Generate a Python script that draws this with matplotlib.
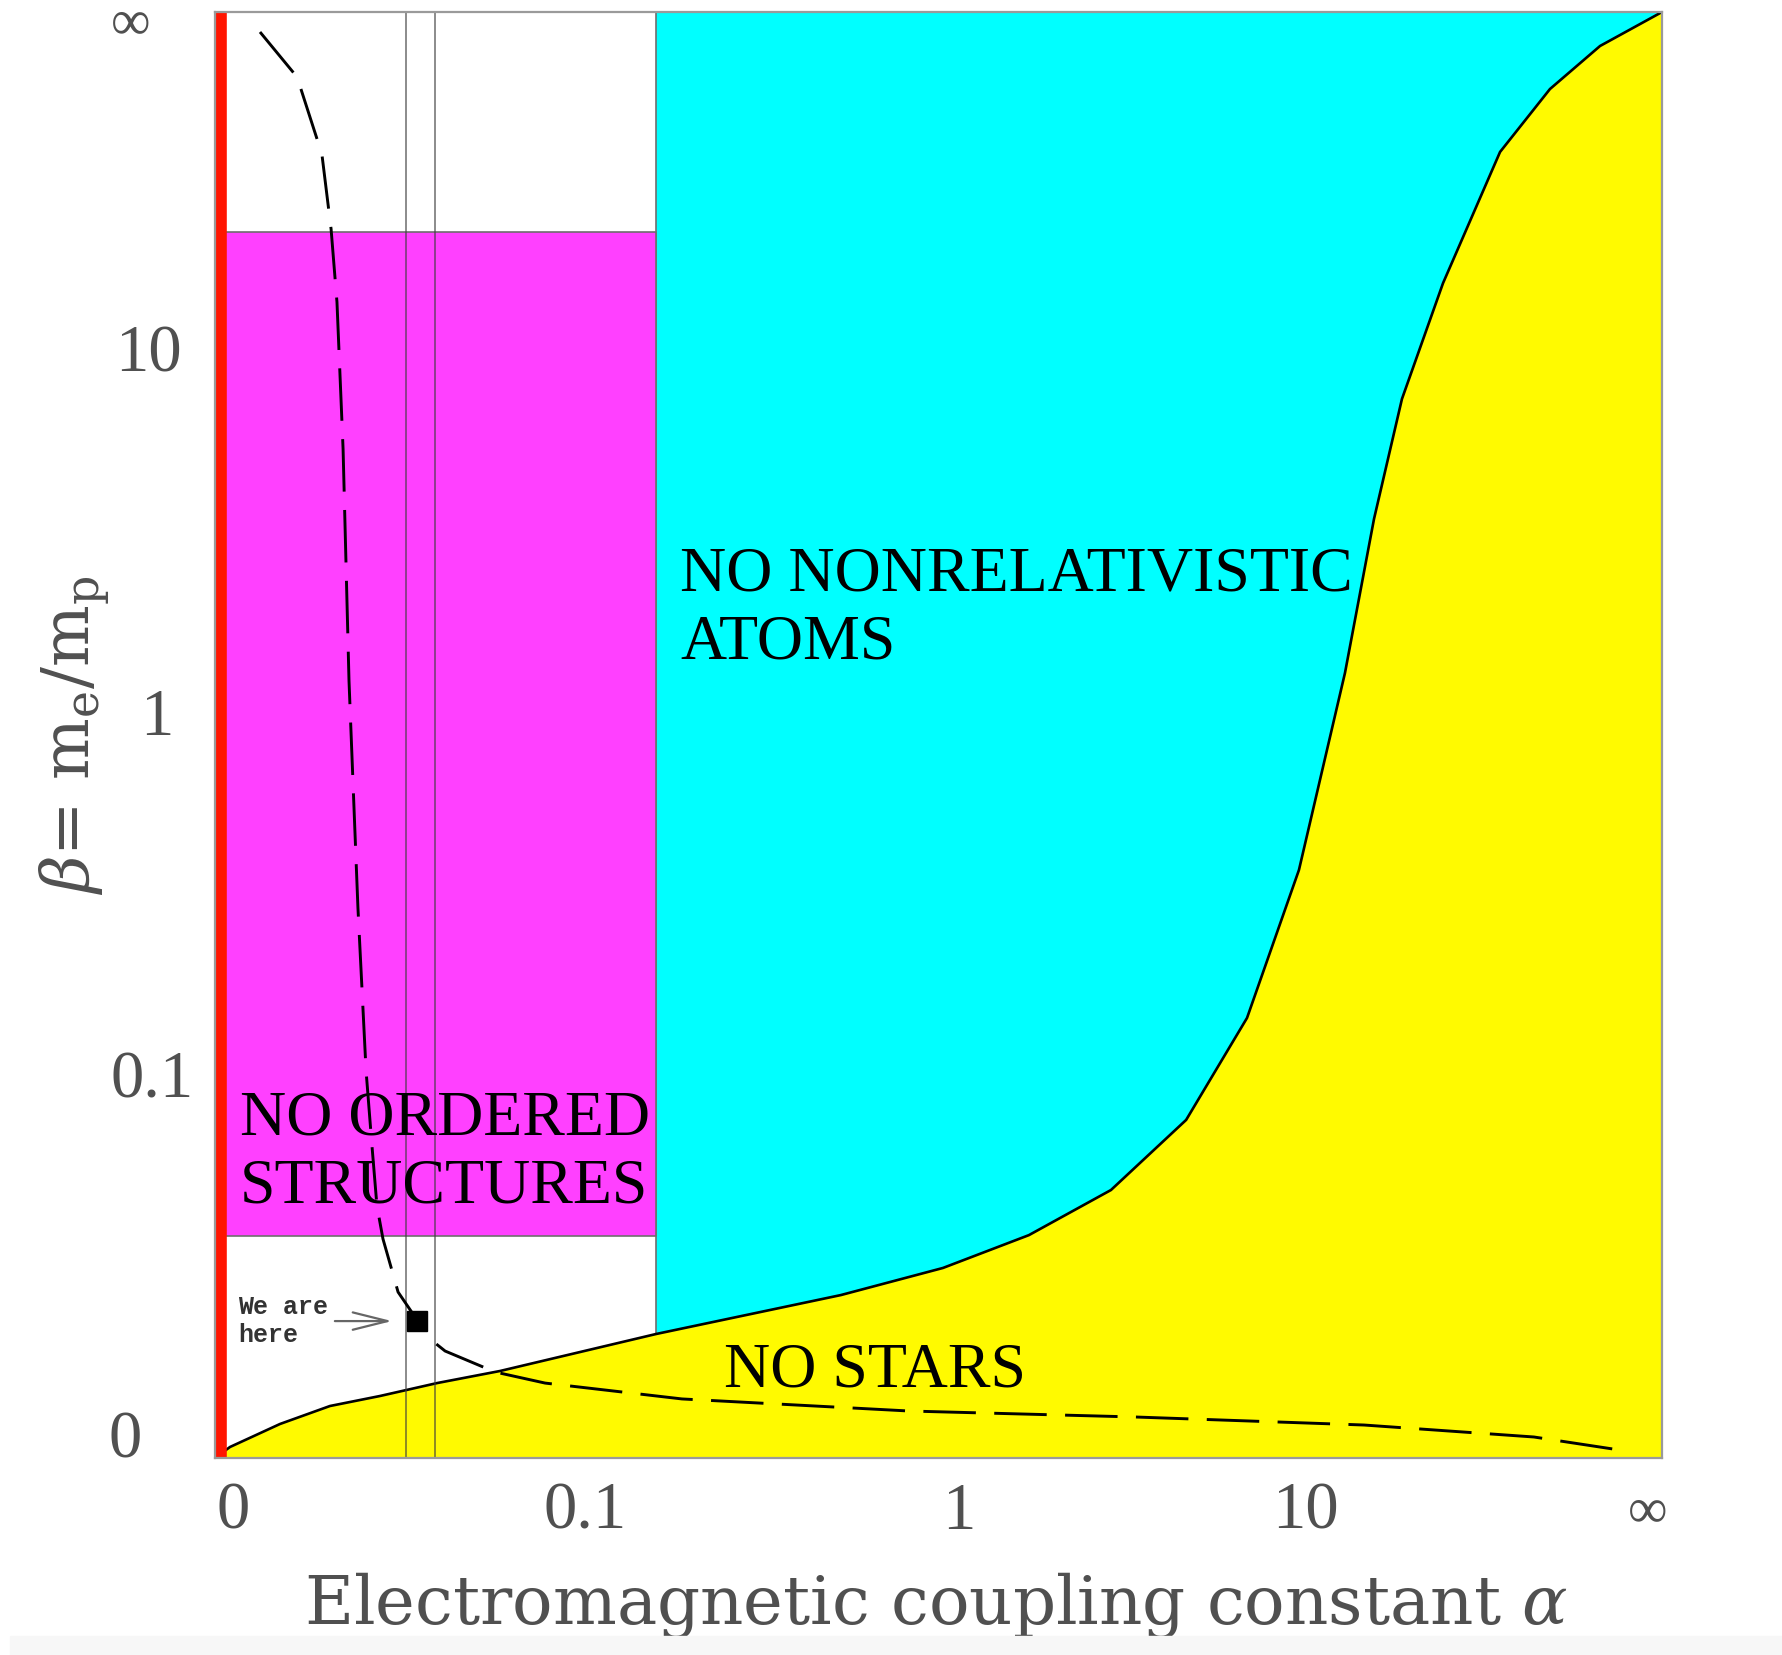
import numpy as np
import matplotlib
matplotlib.use("Agg")
import matplotlib.pyplot as plt
from matplotlib import transforms

plt.rcParams['mathtext.fontset'] = 'dejavuserif'

INF = 1e15  # stands in for the "infinity" end of both axes

# solid boundary: below it, no stars
alpha_star = [0, 7.09e-5, 1.65e-3, 5.89e-3, 0.0136, 0.0279, 0.0526, 0.1776, 0.566,
              1.026, 1.693, 2.77, 4.46, 6.75, 9.90, 14.35, 18.51, 24.1, 37.1, 76.8,
              180, 674, INF]
beta_star = [0, 3.69e-5, 4.06e-4, 1.015e-3, 1.49e-3, 2.26e-3, 3.15e-3, 7.01e-3, 0.01323,
             0.0191, 0.0282, 0.0449, 0.0831, 0.1768, 0.453, 1.434, 3.64, 8.25, 21.6,
             107.9, 416, 2470, INF]

# dashed curve
alpha_dash = [7.41e-4, 2.76e-3, 4.99e-3, 6.02e-3, 6.74e-3, 7.54e-3, 8.37e-3, 9.72e-3,
              0.01106, 0.01210, 0.01302, 0.01420, 0.01629, 0.01743, 0.02577, 0.03047,
              0.0502, 0.0777, 0.2114, 0.843, 3.236, 16.93, 132.7, 1120]
beta_dash = [7656, 605, 104.3, 37.9, 18.14, 5.78, 1.368, 0.3596, 0.1213, 0.0669, 0.0384,
             0.0270, 0.01768, 0.01382, 6.38e-3, 5.01e-3, 3.07e-3, 2.26e-3, 1.34e-3,
             8.15e-4, 6.06e-4, 3.80e-4, 1.45e-4, 2.41e-5]

alpha_atoms = 0.178          # right of this: no nonrelativistic atoms
beta_ordered = (0.0279, 36.6)  # band with no ordered structures
alpha_lines = [0.0193, 0.0272]
here = (0.0221, 0.00881)
arrow_alpha = (6.14e-3, 0.0167)

tick_vals = [0, 0.1, 1, 10, INF]
tick_labels = ['0', '0.1', '1', '10', '\u221e']

# compactified log axis: 0 -> 0, 0.1 -> 1/4, 1 -> 1/2, 10 -> 3/4, inf -> 1
P = np.log10(3)


def fwd(x):
    s = np.clip(x, 0, None) ** P
    return s / (1 + s)


def inv(u):
    u = np.clip(u, 0, 1 - 1e-12)
    return (u / (1 - u)) ** (1 / P)


fig = plt.figure(figsize=(17.82, 16.56), dpi=100)
ax = fig.add_axes([0.12065, 0.11896, 0.81201, 0.87319])
ax.set_xscale('function', functions=(fwd, inv))
ax.set_yscale('function', functions=(fwd, inv))
ax.set_xlim(0, INF)
ax.set_ylim(0, INF)
ax.set_xticks([])
ax.set_yticks([])
for s in ax.spines.values():
    s.set_color('#9a9a9a')
    s.set_linewidth(1.6)
    s.set_zorder(10)

edge = '#6e6e6e'
ax.fill_between([alpha_atoms, INF], 0, INF, color='#00ffff', ec=edge, lw=1.2, zorder=1)
ax.fill_between([0, alpha_atoms], beta_ordered[0], beta_ordered[1], color='#ff40ff',
                ec=edge, lw=1.2, zorder=1)
ax.fill_between(alpha_star, 0, beta_star, color='#fffa00', lw=0, zorder=2)
ax.plot(alpha_star, beta_star, color='black', lw=1.9, zorder=3)

for a in alpha_lines:
    ax.plot([a, a], [0, INF], color='#3c3c3c', lw=1.1, alpha=0.75, zorder=4)

ax.plot(alpha_dash, beta_dash, color='black', lw=2.1, ls=(0, (18, 6.3)), zorder=5)
ax.plot([here[0]], [here[1]], marker='s', color='black', ms=14, zorder=6)
ax.annotate('', xy=(arrow_alpha[1], here[1]), xytext=(arrow_alpha[0], here[1]),
            arrowprops=dict(arrowstyle='->,head_length=1.0,head_width=0.25',
                            color='#666666', lw=1.6, mutation_scale=25), zorder=6)
ax.text(0.0159, 0.1134, 'We are\nhere', transform=ax.transAxes, ha='left', va='top',
        family='Liberation Mono', weight='bold', fontsize=18, color='#333333', zorder=7)

ax.plot([0, 0], [0, INF], color='#ff1500', lw=17, solid_capstyle='butt', zorder=8)

region_font = dict(family='Liberation Serif', fontsize=46, color='black',
                   ha='left', va='top', linespacing=1.22, zorder=7)
ax.text(0.3214, 0.631, 'NO NONRELATIVISTIC\nATOMS', transform=ax.transAxes, **region_font)
ax.text(0.0173, 0.2548, 'NO ORDERED\nSTRUCTURES', transform=ax.transAxes, **region_font)
ax.text(0.3518, 0.0805, 'NO STARS', transform=ax.transAxes, **region_font)

# tick labels, placed one by one as in the original
grey = '#505050'
x_shift = [18, 8, 20, 5, -14]
for v, lab, dx in zip(tick_vals, tick_labels, x_shift):
    tr = transforms.offset_copy(ax.get_xaxis_transform(), fig=fig, x=dx, y=0, units='dots')
    ax.text(v, -0.0367, lab, transform=tr, ha='center', va='center', color=grey,
            family='Liberation Serif', fontsize=40 if lab == '\u221e' else 48, clip_on=False)

y_pos = [-0.0622, -0.0436, -0.0401, -0.0463, -0.0581]
y_shift = [18, 17, 18, 20, -11]
for v, lab, xp, dy in zip(tick_vals, tick_labels, y_pos, y_shift):
    tr = transforms.offset_copy(ax.get_yaxis_transform(), fig=fig, x=0, y=dy, units='dots')
    ax.text(xp, v, lab, transform=tr, ha='center', va='center', color=grey,
            family='Liberation Serif', fontsize=40 if lab == '\u221e' else 48, clip_on=False)

ax.text(0.4983, -0.101, r'Electromagnetic coupling constant $\alpha$', transform=ax.transAxes,
        ha='center', va='center', family='DejaVu Serif', fontsize=48.5, color=grey)
ax.text(-0.0968, 0.5007, r'$\beta$= m$_\mathrm{e}$/m$_\mathrm{p}$', transform=ax.transAxes,
        rotation=90, ha='center', va='center', family='DejaVu Serif', fontsize=47, color=grey)

fig.patches.append(plt.Rectangle((0.0056, 0), 1, 0.0115, transform=fig.transFigure,
                                 color='#f7f7f7', zorder=0))

fig.savefig('out.png', dpi=100)
